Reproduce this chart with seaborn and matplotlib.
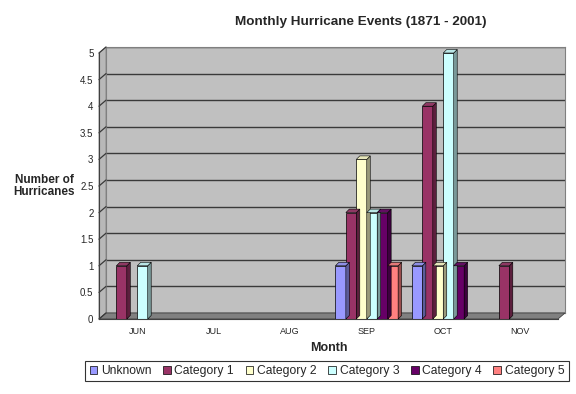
import numpy as np
import pandas as pd
import matplotlib
matplotlib.use("Agg")
import matplotlib.pyplot as plt
import seaborn as sns
from matplotlib.patches import Polygon, Patch
from matplotlib.lines import Line2D
from matplotlib.ticker import FormatStrFormatter
import matplotlib.colors as mcolors

months = ["JUN", "JUL", "AUG", "SEP", "OCT", "NOV"]
categories = ["Unknown", "Category 1", "Category 2", "Category 3", "Category 4", "Category 5"]
unknown = [0, 0, 0, 1, 1, 0]
cat1 = [1, 0, 0, 2, 4, 1]
cat2 = [0, 0, 0, 3, 1, 0]
cat3 = [1, 0, 0, 2, 5, 0]
cat4 = [0, 0, 0, 2, 1, 0]
cat5 = [0, 0, 0, 1, 0, 0]
colors = ["#9999FF", "#993366", "#FFFFCC", "#CCFFFF", "#660066", "#FF8080"]

series = [unknown, cat1, cat2, cat3, cat4, cat5]
rows = []
for c, vals in zip(categories, series):
    for m, v in zip(months, vals):
        rows.append({"Month": m, "Category": c, "Count": v})
df = pd.DataFrame(rows)

sns.set_style("white")
plt.rcParams["font.family"] = ["Liberation Sans", "DejaVu Sans"]

W, H = 576, 394
fig = plt.figure(figsize=(W / 100, H / 100), dpi=100)
fig.patch.set_facecolor("white")

def fx(x):
    return x / W

def fy(y):
    return 1 - y / H

# front plane (pixels)
L, R, B, T = 99, 558, 319, 53
DX, DY = 7, 6

# back wall
wall = fig.add_axes([fx(L + DX), fy(B - DY), fx(R - L), (B - T) / H], zorder=0)
wall.set_facecolor("#C0C0C0")
wall.set_xlim(0, 1)
wall.set_ylim(0, 5)
wall.set_yticks(np.arange(0, 5.01, 0.5))
wall.set_xticks([])
wall.tick_params(left=False, labelleft=False)
wall.grid(axis="y", color="#3a3a3a", linewidth=1.0)
for s in wall.spines.values():
    s.set_color("#808080")
    s.set_linewidth(0.8)

# side wall and floor
side = Polygon([(fx(L), fy(B)), (fx(L), fy(T)), (fx(L + DX), fy(T - DY)), (fx(L + DX), fy(B - DY))],
               closed=True, transform=fig.transFigure, facecolor="#B8B8B8",
               edgecolor="#808080", linewidth=0.6, zorder=0.5)
fig.add_artist(side)
floor = Polygon([(fx(L), fy(B)), (fx(R), fy(B)), (fx(R + DX), fy(B - DY)), (fx(L + DX), fy(B - DY))],
                closed=True, transform=fig.transFigure, facecolor="#808080",
                edgecolor="#404040", linewidth=0.6, zorder=0.5)
fig.add_artist(floor)

# main axes
ax = fig.add_axes([fx(L), fy(B), fx(R - L), (B - T) / H], zorder=1)
ax.set_facecolor("none")
sns.barplot(data=df, x="Month", y="Count", hue="Category", order=months,
            hue_order=categories, palette=colors, width=0.82, ax=ax,
            edgecolor="black", linewidth=0.5, saturation=1, legend=False)
ax.set_xlim(-0.5, 5.5)
ax.set_ylim(0, 5)
ax.set_yticks(np.arange(0, 5.01, 0.5))
ax.yaxis.set_major_formatter(FormatStrFormatter("%g"))
ax.tick_params(axis="y", labelsize=7, length=3, width=0.8, color="#404040", pad=1)
ax.set_xticks(range(len(months)))
ax.set_xticklabels(months)
ax.tick_params(axis="x", labelsize=6.5, length=0, pad=6)
ax.set_xticks(np.arange(-0.5, 5.6, 1), minor=True)
ax.tick_params(axis="x", which="minor", length=4, width=0.8, color="#404040")
ax.set_xlabel("Month", fontsize=9, fontweight="bold", labelpad=4)
ax.set_ylabel("")
for k, s in ax.spines.items():
    if k in ("left", "bottom"):
        s.set_color("#404040")
        s.set_linewidth(0.8)
    else:
        s.set_visible(False)

# diagonal gridlines on the side wall
for yv in np.arange(0, 5.01, 0.5):
    _, ydisp = ax.transData.transform((0, yv))
    ypx = H - ydisp
    fig.add_artist(Line2D([fx(L), fx(L + DX)], [fy(ypx), fy(ypx - DY)],
                          transform=fig.transFigure, color="#3a3a3a", linewidth=0.9, zorder=0.6))

# 3D depth for bars
d = 3.5
fig.canvas.draw()
for p in list(ax.patches):
    h = p.get_height()
    if h == 0:
        p.set_visible(False)
        continue
    x0, y0 = p.get_x(), p.get_y()
    x1 = x0 + p.get_width()
    (ax0, ay0), (ax1, ay1) = ax.transData.transform([(x0, y0), (x1, y0 + h)])
    fc = np.array(mcolors.to_rgb(p.get_facecolor()))
    side_c = fc * 0.6
    top_c = np.clip(fc * 0.85 + 0.05, 0, 1)
    sidep = Polygon([(fx(ax1), fy(H - ay0)), (fx(ax1 + d), fy(H - ay0 - d)),
                     (fx(ax1 + d), fy(H - ay1 - d)), (fx(ax1), fy(H - ay1))],
                    closed=True, transform=fig.transFigure, facecolor=side_c,
                    edgecolor="black", linewidth=0.4, zorder=1.5)
    topp = Polygon([(fx(ax0), fy(H - ay1)), (fx(ax1), fy(H - ay1)),
                    (fx(ax1 + d), fy(H - ay1 - d)), (fx(ax0 + d), fy(H - ay1 - d))],
                   closed=True, transform=fig.transFigure, facecolor=top_c,
                   edgecolor="black", linewidth=0.4, zorder=1.5)
    fig.add_artist(sidep)
    fig.add_artist(topp)

fig.text(fx(361), fy(22), "Monthly Hurricane Events (1871 - 2001)", ha="center", va="center",
         fontsize=9.7, fontweight="bold")
fig.text(fx(44), fy(186), "Number of\nHurricanes", ha="center", va="center",
         fontsize=8.5, fontweight="bold", linespacing=1.1)

handles = [Patch(facecolor=c, edgecolor="black", linewidth=0.5) for c in colors]
leg = fig.legend(handles, categories, loc="center", bbox_to_anchor=(fx(327), fy(371)),
                 ncol=6, fontsize=8.7, frameon=True, fancybox=False, edgecolor="black",
                 handlelength=0.65, handleheight=0.65, handletextpad=0.3, columnspacing=0.95,
                 borderpad=0.35, borderaxespad=0)
leg.get_frame().set_linewidth(0.8)

fig.savefig("out.png", dpi=100, facecolor="white")
